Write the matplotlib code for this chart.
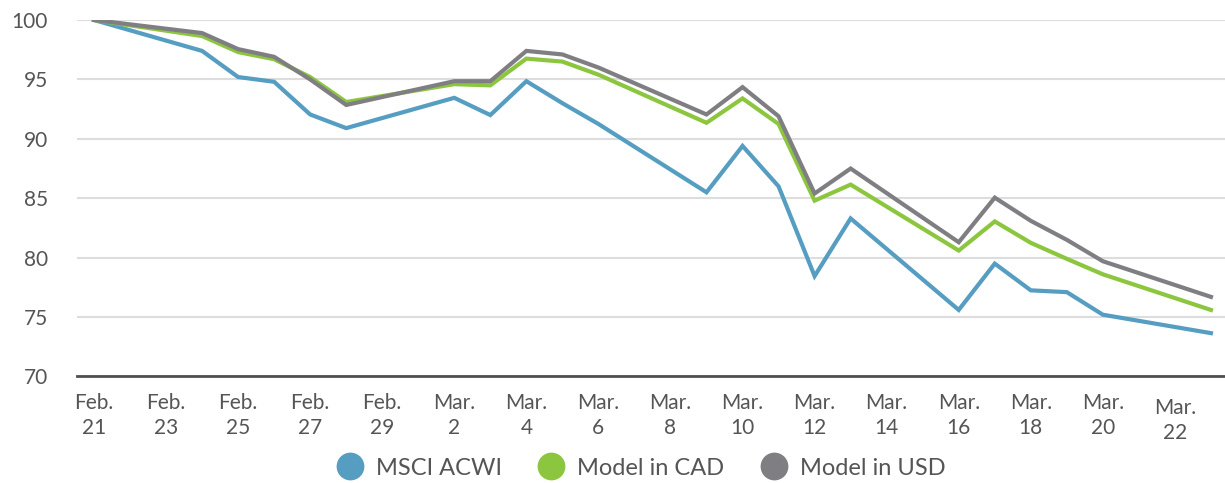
import datetime as dt
import matplotlib
matplotlib.use("Agg")
import matplotlib.pyplot as plt
import matplotlib.dates as mdates
from matplotlib.lines import Line2D
from matplotlib.transforms import ScaledTranslation

# trading days, Feb 21 - Mar 23 2020
dates = ["2020-02-21", "2020-02-24", "2020-02-25", "2020-02-26", "2020-02-27", "2020-02-28",
         "2020-03-02", "2020-03-03", "2020-03-04", "2020-03-05", "2020-03-06", "2020-03-09",
         "2020-03-10", "2020-03-11", "2020-03-12", "2020-03-13", "2020-03-16", "2020-03-17",
         "2020-03-18", "2020-03-19", "2020-03-20", "2020-03-23"]

msci_acwi = [100, 97.4, 95.2, 94.8, 92.05, 90.9, 93.45, 92.0, 94.85, 93.0, 91.25, 85.5,
             89.4, 86.0, 78.45, 83.3, 75.6, 79.5, 77.25, 77.1, 75.2, 73.65]
model_cad = [100, 98.65, 97.3, 96.7, 95.2, 93.1, 94.6, 94.5, 96.75, 96.5, 95.4, 91.35,
             93.4, 91.25, 84.8, 86.15, 80.6, 83.05, 81.25, 79.9, 78.6, 75.6]
model_usd = [100, 98.9, 97.55, 96.9, 95.0, 92.85, 94.85, 94.85, 97.4, 97.1, 96.0, 92.05,
             94.35, 91.9, 85.4, 87.5, 81.3, 85.05, 83.1, 81.5, 79.7, 76.7]

series_names = ["MSCI ACWI", "Model in CAD", "Model in USD"]
colors = ["#569DC2", "#8CC63F", "#7F7E82"]

tick_dates = ["2020-02-21", "2020-02-23", "2020-02-25", "2020-02-27", "2020-02-29",
              "2020-03-02", "2020-03-04", "2020-03-06", "2020-03-08", "2020-03-10",
              "2020-03-12", "2020-03-14", "2020-03-16", "2020-03-18", "2020-03-20",
              "2020-03-22"]
tick_labels = ["Feb.\n21", "Feb.\n23", "Feb.\n25", "Feb.\n27", "Feb.\n29",
               "Mar.\n2", "Mar.\n4", "Mar.\n6", "Mar.\n8", "Mar.\n10",
               "Mar.\n12", "Mar.\n14", "Mar.\n16", "Mar.\n18", "Mar.\n20",
               "Mar.\n22"]
y_ticks = [70, 75, 80, 85, 90, 95, 100]

plt.rcParams['font.family'] = ['Lato', 'DejaVu Sans']
text_color = "#555555"

x = [mdates.date2num(dt.datetime.strptime(d, "%Y-%m-%d")) for d in dates]
xt = [mdates.date2num(dt.datetime.strptime(d, "%Y-%m-%d")) for d in tick_dates]

fig = plt.figure(figsize=(12.25, 4.83), dpi=100)
ax = fig.add_axes([0.0629, 0.2205, 0.9371, 0.7381])

for vals, name, c in zip([msci_acwi, model_cad, model_usd], series_names, colors):
    ax.plot(x, vals, color=c, lw=3, label=name, solid_joinstyle="miter", zorder=3)

ax.set_ylim(70, 100)
ax.set_xlim(x[0] - 0.47, x[-1] + 0.39)
ax.set_yticks(y_ticks)
ax.set_xticks(xt)
ax.set_xticklabels(tick_labels, linespacing=1.3)

ax.grid(axis="y", color="#DDDDDD", lw=1.5)
ax.set_axisbelow(True)
for s in ["top", "right", "left"]:
    ax.spines[s].set_visible(False)
ax.spines["bottom"].set_color("#4F4F4F")
ax.spines["bottom"].set_linewidth(2)
ax.spines["bottom"].set_zorder(4)

ax.tick_params(axis="both", length=0, labelsize=15, labelcolor=text_color)
ax.tick_params(axis="x", pad=12)
ax.tick_params(axis="y", pad=21)

# last label sits a little lower in the original
last = ax.xaxis.get_major_ticks()[-1].label1
last.set_transform(last.get_transform() + ScaledTranslation(0, -5 / 100, fig.dpi_scale_trans))

handles = [Line2D([], [], marker="o", ls="", markersize=20, color=c, markeredgewidth=0)
           for c in colors]
leg = ax.legend(handles, series_names, loc="center", bbox_to_anchor=(0.492, -0.257),
                ncol=3, frameon=False, fontsize=17, handlelength=1.0,
                handletextpad=0.6, columnspacing=1.6)
for t in leg.get_texts():
    t.set_color(text_color)

fig.savefig("out.png", dpi=100)
